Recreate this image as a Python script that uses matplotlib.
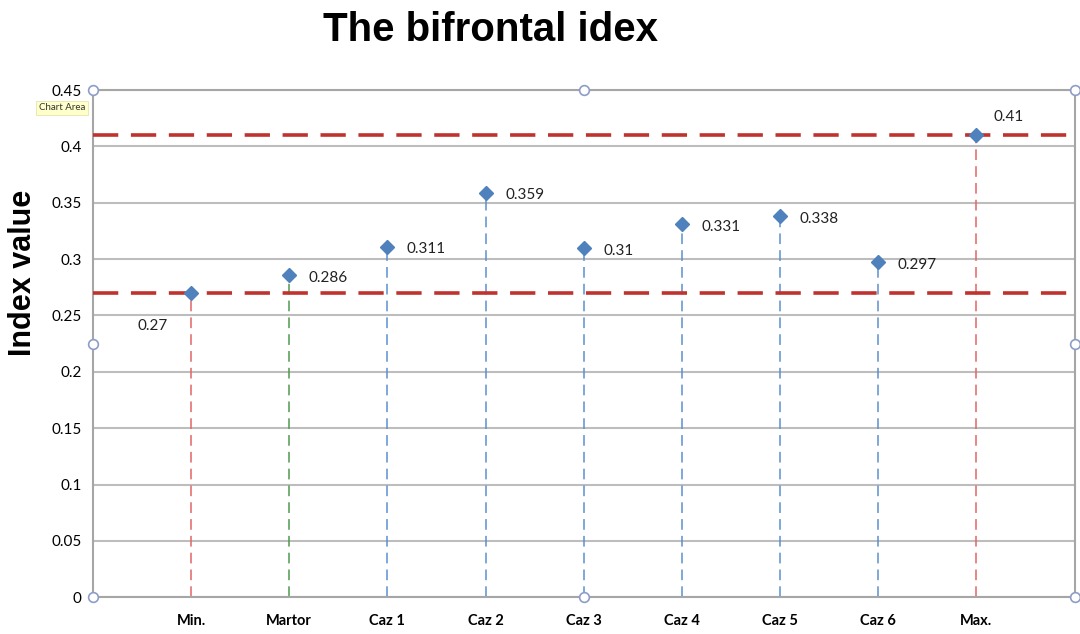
import matplotlib.pyplot as plt

categories = ["Min.", "Martor", "Caz 1", "Caz 2", "Caz 3", "Caz 4", "Caz 5", "Caz 6", "Max."]
values = [0.27, 0.286, 0.311, 0.359, 0.31, 0.331, 0.338, 0.297, 0.41]
drop_colors = ["#e06666", "#4e9a4e", "#5b8fd0", "#5b8fd0", "#5b8fd0", "#5b8fd0", "#5b8fd0", "#5b8fd0", "#e06666"]
label_labels = ["0.27", "0.286", "0.311", "0.359", "0.31", "0.331", "0.338", "0.297", "0.41"]
ref_lines = [0.27, 0.41]
yticks = [0, 0.05, 0.1, 0.15, 0.2, 0.25, 0.3, 0.35, 0.4, 0.45]

plt.rcParams['font.family'] = ['Lato', 'DejaVu Sans']

fig = plt.figure(figsize=(10.8, 6.34), dpi=100)
ax = fig.add_axes([0.086, 0.058, 0.909, 0.8])

x = list(range(len(categories)))

# grid
for t in yticks:
    ax.axhline(t, color="#bdbdbd", lw=1.5, zorder=1)

# drop lines
for i, v in enumerate(values):
    ax.plot([i, i], [0, v], color=drop_colors[i], lw=1.1, ls=(0, (7, 4)), zorder=2)

# min / max reference lines
for r in ref_lines:
    ax.axhline(r, color="#c0322e", lw=2.6, ls=(0, (7, 3.5)), zorder=3)

ax.plot(x, values, ls="none", marker="D", ms=7, color="#4f81bd", zorder=4)

for i, v in enumerate(values):
    if i == 0:
        ax.annotate(label_labels[i], (i, v), xytext=(-28, -24), textcoords="offset points",
                    fontsize=11, color="#222222", ha="center", va="center")
    elif i == len(values) - 1:
        ax.annotate(label_labels[i], (i, v), xytext=(12, 13), textcoords="offset points",
                    fontsize=11, color="#222222", ha="left", va="center")
    else:
        ax.annotate(label_labels[i], (i, v), xytext=(14, -2), textcoords="offset points",
                    fontsize=11, color="#222222", ha="left", va="center")

ax.set_xlim(-1, 9)
ax.set_ylim(0, 0.45)
ax.set_xticks(x)
ax.set_xticklabels(categories, fontsize=10.5, fontweight="bold")
ax.set_yticks(yticks)
ax.set_yticklabels(["0", "0.05", "0.1", "0.15", "0.2", "0.25", "0.3", "0.35", "0.4", "0.45"], fontsize=11)
ax.tick_params(axis="y", length=0, pad=8)
ax.tick_params(axis="x", length=0, pad=12)
for s in ax.spines.values():
    s.set_color("#a6a6a6")
    s.set_linewidth(1.5)

ax.set_ylabel("Index value", fontsize=22, fontweight="bold", family=["Liberation Sans", "DejaVu Sans"])
ax.yaxis.set_label_coords(-0.056, 0.64)
fig.text(0.454, 0.952, "The bifrontal idex", fontsize=29, fontweight="bold",
         family=["Liberation Sans", "DejaVu Sans"], ha="center", va="center")

# selection handles
for hx, hy in [(0, 0), (0.5, 0), (1, 0), (0, 0.5), (1, 0.5), (0, 1), (0.5, 1), (1, 1)]:
    ax.plot(hx, hy, marker="o", ms=7, mfc="white", mec="#8e9cc8", mew=1.2,
            transform=ax.transAxes, clip_on=False, zorder=6)

ax.text(-0.055, 0.965, "Chart Area", transform=ax.transAxes, fontsize=7, color="#333333",
        ha="left", va="center", zorder=7,
        bbox=dict(boxstyle="square,pad=0.25", fc="#ffffcc", ec="#e0e0a0", lw=0.5))

fig.savefig("out.png", dpi=100)
